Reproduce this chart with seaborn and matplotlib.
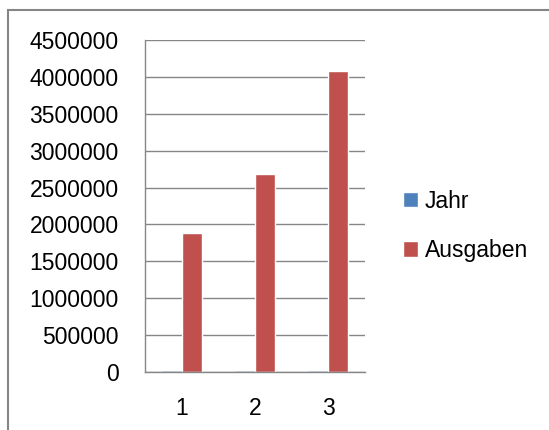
import matplotlib
matplotlib.use("Agg")
import matplotlib.pyplot as plt
import seaborn as sns
import pandas as pd
from matplotlib.patches import Rectangle

# Daten
kategorien = ["1", "2", "3"]
jahr = [2009, 2010, 2011]
ausgaben = [1880000, 2680000, 4080000]
serien = ["Jahr", "Ausgaben"]
farben = ["#4F81BD", "#C0504D"]
y_ticks = [0, 500000, 1000000, 1500000, 2000000, 2500000, 3000000, 3500000, 4000000, 4500000]

df = pd.DataFrame({
    "Kategorie": kategorien * 2,
    "Serie": ["Jahr"] * 3 + ["Ausgaben"] * 3,
    "Wert": jahr + ausgaben,
})

sns.set_style("white")
plt.rcParams["font.family"] = ["Liberation Sans", "DejaVu Sans"]
plt.rcParams["text.color"] = "black"

fig = plt.figure(figsize=(5.49, 4.30), dpi=100)
ax = fig.add_axes([145 / 549, 1 - 372 / 430, 220 / 549, 332 / 430])

sns.barplot(data=df, x="Kategorie", y="Wert", hue="Serie", hue_order=serien,
            palette=farben, saturation=1, width=0.55, ax=ax, errorbar=None)

# kleine Jahr-Balken sichtbar machen (wie in Excel)
for bar in ax.containers[0]:
    bar.set_edgecolor(farben[0])
    bar.set_linewidth(1.0)

grau = "#868686"
ax.set_ylim(0, 4500000)
ax.set_xlim(-0.5, 2.5)
ax.set_yticks(y_ticks)
ax.set_yticklabels([str(v) for v in y_ticks], fontsize=16.5, color="black")
ax.set_xticks(range(3))
ax.set_xticklabels(kategorien, fontsize=16.5, color="black")
ax.set_xticks([-0.5, 0.5, 1.5, 2.5], minor=True)
ax.tick_params(axis="x", which="major", length=0, pad=18)
ax.tick_params(axis="x", which="minor", length=6, color=grau, width=1)
ax.tick_params(axis="y", length=6, color=grau, width=1, pad=13)
ax.yaxis.grid(True, color=grau, linewidth=1)
ax.set_axisbelow(True)
for s in ["top", "right"]:
    ax.spines[s].set_visible(False)
for s in ["left", "bottom"]:
    ax.spines[s].set_color(grau)
    ax.spines[s].set_linewidth(1)
ax.set_xlabel("")
ax.set_ylabel("")

leg = ax.legend(loc="center left", bbox_to_anchor=(1.08, 0.44), frameon=False,
                fontsize=16.5, handlelength=0.65, handleheight=0.65, handletextpad=0.3,
                labelspacing=1.15)
for t in leg.get_texts():
    t.set_color("black")

# Rahmen
fig.patches.append(Rectangle((8 / 549, -0.1), 1.1, 1 - 10 / 430 + 0.1,
                             transform=fig.transFigure, fill=False,
                             edgecolor=grau, linewidth=1.5))

fig.savefig("out.png", dpi=100)
